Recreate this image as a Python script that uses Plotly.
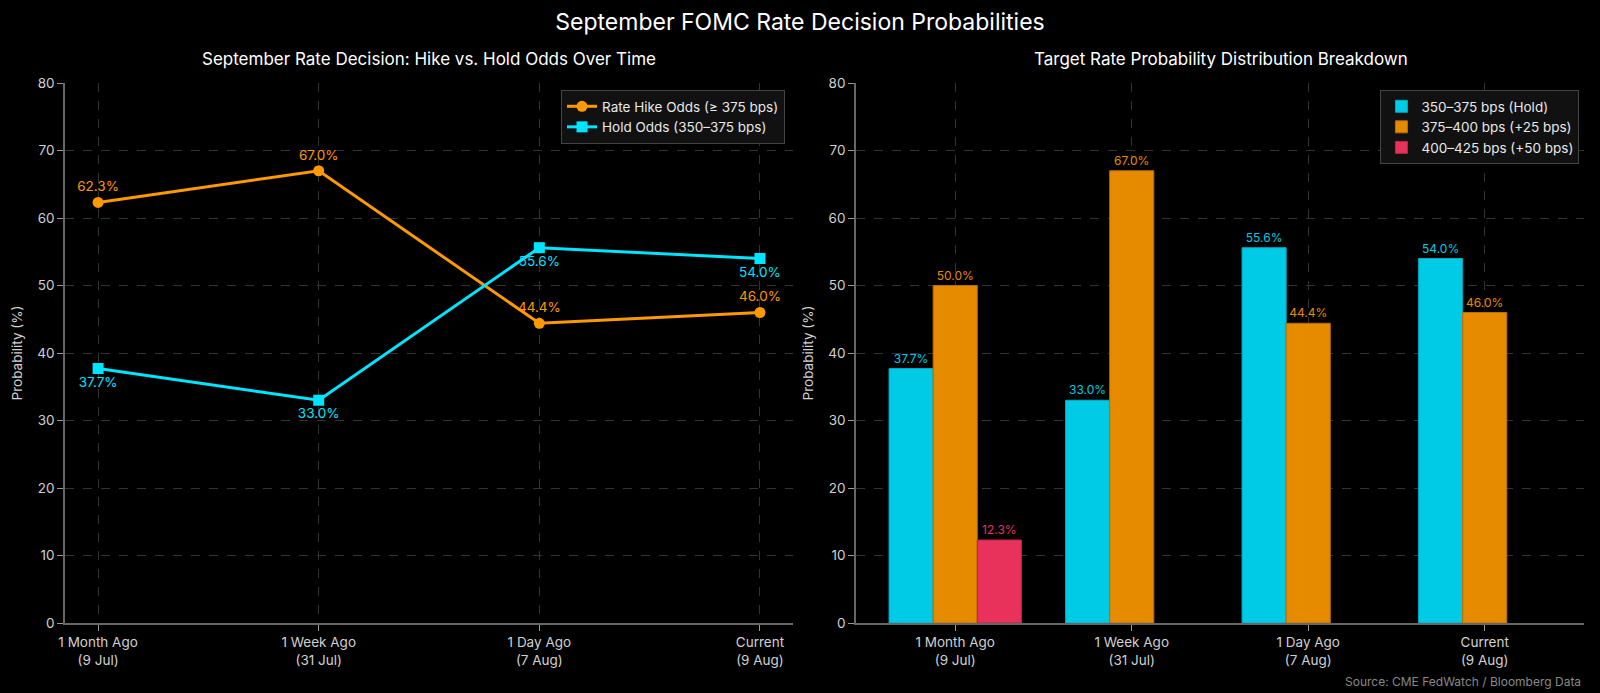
import plotly.graph_objects as go

# data
periods = ["1 Month Ago<br>(9 Jul)", "1 Week Ago<br>(31 Jul)", "1 Day Ago<br>(7 Aug)", "Current<br>(9 Aug)"]
hike_odds = [62.3, 67.0, 44.4, 46.0]
hold_odds = [37.7, 33.0, 55.6, 54.0]

bucket_names = ["350–375 bps (Hold)", "375–400 bps (+25 bps)", "400–425 bps (+50 bps)"]
bucket_hold = [37.7, 33.0, 55.6, 54.0]
bucket_25 = [50.0, 67.0, 44.4, 46.0]
bucket_50 = [12.3, 0.0, 0.0, 0.0]

ORANGE = "#FF9900"
CYAN = "#00E5FF"
BAR_CYAN = "#00CBE6"
BAR_ORANGE = "#E68A00"
BAR_RED = "#E8315B"
FONT = "Inter"

xs = list(range(len(periods)))

fig = go.Figure()

fig.add_trace(go.Scatter(
    x=xs, y=hike_odds, mode="lines+markers+text", name="Rate Hike Odds (≥ 375 bps)",
    line=dict(color=ORANGE, width=3), marker=dict(symbol="circle", size=11, color=ORANGE),
    text=[f"{v:.1f}%" for v in hike_odds], textposition="top center",
    textfont=dict(color=ORANGE, size=13.5), xaxis="x", yaxis="y", legend="legend",
))
fig.add_trace(go.Scatter(
    x=xs, y=hold_odds, mode="lines+markers+text", name="Hold Odds (350–375 bps)",
    line=dict(color=CYAN, width=3), marker=dict(symbol="square", size=11, color=CYAN),
    text=[f"{v:.1f}%" for v in hold_odds], textposition="bottom center",
    textfont=dict(color=CYAN, size=13.5), xaxis="x", yaxis="y", legend="legend",
))

for name, vals, col, edge in [
    (bucket_names[0], bucket_hold, BAR_CYAN, "#00a8c0"),
    (bucket_names[1], bucket_25, BAR_ORANGE, "#b86e00"),
    (bucket_names[2], bucket_50, BAR_RED, "#b82648"),
]:
    fig.add_trace(go.Bar(
        x=xs, y=[v if v > 0 else None for v in vals], name=name,
        marker=dict(color=col, line=dict(color=edge, width=1)),
        text=[f"{v:.1f}%" if v > 0 else "" for v in vals], textposition="outside",
        textfont=dict(color=col, size=12), cliponaxis=False,
        xaxis="x2", yaxis="y2", legend="legend2",
    ))

axis_common = dict(
    showline=True, linecolor="#666666", linewidth=1.5, ticks="outside", ticklen=6,
    tickcolor="#999999", tickfont=dict(color="#d0d0d0", size=13.5),
    showgrid=True, gridcolor="#333333", griddash="dash", gridwidth=1, zeroline=False,
    automargin=False,
)

legend_common = dict(
    xanchor="right", yanchor="top", itemwidth=30,
    bgcolor="#111111", bordercolor="#444444", borderwidth=1,
    font=dict(size=13.5, color="#e8e8e8"),
)

fig.update_layout(
    autosize=True,
    paper_bgcolor="#000000", plot_bgcolor="#000000",
    font=dict(family=FONT, color="#e0e0e0"),
    margin=dict(l=65, r=16, t=83, b=70),
    barmode="group", bargap=0.25, bargroupgap=0,
    showlegend=True,
    xaxis=dict(axis_common, domain=[0.0, 0.4793], range=[-0.15, 3.15],
               tickvals=xs, ticktext=periods, anchor="y"),
    yaxis=dict(axis_common, domain=[0.0, 1.0], range=[0, 80], dtick=10, anchor="x",
               title=dict(text="Probability (%)", font=dict(size=13.5, color="#d0d0d0"), standoff=12)),
    xaxis2=dict(axis_common, domain=[0.5207, 1.0], range=[-0.5625, 3.5625],
                tickvals=xs, ticktext=periods, anchor="y2"),
    yaxis2=dict(axis_common, domain=[0.0, 1.0], range=[0, 80], dtick=10, anchor="x2",
                title=dict(text="Probability (%)", font=dict(size=13.5, color="#d0d0d0"), standoff=12)),
    legend=dict(legend_common, x=0.474, y=0.987),
    legend2=dict(legend_common, x=0.997, y=0.987),
    title=dict(text="September FOMC Rate Decision Probabilities", x=0.5, y=0.968,
               xref="container", yref="container",
               xanchor="center", yanchor="middle", font=dict(size=23, color="#ffffff")),
)

fig.add_annotation(text="September Rate Decision: Hike vs. Hold Odds Over Time",
                   x=0.2395, y=1.044, xref="paper", yref="paper", xanchor="center",
                   yanchor="middle", showarrow=False, font=dict(size=17, color="#ffffff"))
fig.add_annotation(text="Target Rate Probability Distribution Breakdown",
                   x=0.761, y=1.044, xref="paper", yref="paper", xanchor="center",
                   yanchor="middle", showarrow=False, font=dict(size=17, color="#ffffff"))
fig.add_annotation(text="Source: CME FedWatch / Bloomberg Data",
                   x=0.9993, y=-0.109, xref="paper", yref="paper", xanchor="right",
                   yanchor="middle", showarrow=False, font=dict(size=12, color="#888888"))

fig.write_html(
    "out.html",
    default_width="100vw",
    default_height="100vh",
    config={"responsive": True, "displayModeBar": False},
    post_script=(
        "document.documentElement.style.overflow='hidden';"
        "document.body.style.margin='0';document.body.style.overflow='hidden';"
        "Plotly.Plots.resize(document.getElementById('{plot_id}'));"
    ),
)
